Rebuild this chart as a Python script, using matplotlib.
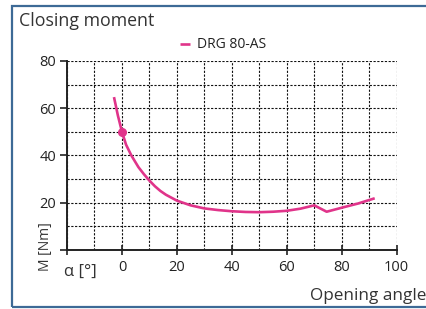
import matplotlib
matplotlib.use("Agg")
import matplotlib.pyplot as plt
from matplotlib.patches import Rectangle
import numpy as np

plt.rcParams['font.family'] = ['Open Sans', 'DejaVu Sans']

# Data
angle = [-2.9, -1.5, 0, 1.5, 3.4, 6, 8, 10, 12, 14, 16, 20, 25, 30, 35, 40, 45, 50, 55, 60, 65, 70, 74.5, 80, 86, 92]
moment = [64.7, 57.0, 50.0, 44.5, 40.0, 35.0, 32.0, 29.3, 26.9, 24.9, 23.3, 20.8, 18.8, 17.5, 16.8, 16.3, 16.0, 15.9, 16.1, 16.5, 17.4, 18.8, 16.1, 17.8, 19.6, 21.8]
marker_x = [0]
marker_y = [50]
series_name = "DRG 80-AS"
xticks = [-20, 0, 20, 40, 60, 80, 100]
xticklabels = ["", "0", "20", "40", "60", "80", "100"]
yticks = [0, 20, 40, 60, 80]
yticklabels = ["", "20", "40", "60", "80"]

pink = "#e0348a"
W, H = 426, 309
fig = plt.figure(figsize=(W/100, H/100), dpi=100)

# blue frame
fig.patches.append(Rectangle((12/W, 1-306.5/H), 1.0, (306.5-5.5)/H, transform=fig.transFigure,
                             fill=False, edgecolor="#3d6a96", linewidth=1.6))

ax = fig.add_axes([67/W, 1-249.7/H, (396.7-67)/W, (249.7-61)/H])
ax.set_xlim(-20, 100)
ax.set_ylim(0, 80)

ax.plot(angle, moment, color=pink, lw=1.9, solid_capstyle='butt', solid_joinstyle='round', label=series_name)
ax.plot(marker_x, marker_y, 'o', color=pink, ms=5.5)

ax.set_xticks(xticks)
ax.set_xticklabels(xticklabels)
ax.set_yticks(yticks)
ax.set_yticklabels(yticklabels)
ax.set_xticks(np.arange(-10, 101, 10), minor=True)
ax.set_yticks(np.arange(10, 81, 10), minor=True)
ax.tick_params(axis='x', which='major', direction='inout', length=7, width=1.2, colors='#222', labelsize=10.5, pad=4)
ax.tick_params(axis='y', which='major', direction='out', length=5, width=1.2, colors='#222', labelsize=10.5, pad=3)
ax.tick_params(which='minor', length=0)
ax.grid(True, which='both', color='#111', lw=0.8, linestyle=(0, (2, 1.4)))
ax.set_axisbelow(True)
for s in ['top', 'right']:
    ax.spines[s].set_visible(False)
for s in ['left', 'bottom']:
    ax.spines[s].set_linewidth(1.4)
    ax.spines[s].set_color('#222')

fig.text(19/W, 1-21/H, "Closing moment", fontsize=12.8, color='#333', ha='left', va='center')
fig.text(426/W, 1-296/H, "Opening angle", fontsize=12.3, color='#333', ha='right', va='center')
fig.text(80/W, 1-272/H, "α [°]", fontsize=12, color='#333', ha='center', va='center')
fig.text(45.5/W, 1-247/H, "M [Nm]", fontsize=10, color='#333', ha='center', va='center', rotation=90)

ax.legend(loc='center', bbox_to_anchor=(223/W, 1-45/H), bbox_transform=fig.transFigure,
          frameon=False, handlelength=0.7, handletextpad=0.5, fontsize=10, labelcolor='#222')

fig.savefig("out.png", dpi=100)
